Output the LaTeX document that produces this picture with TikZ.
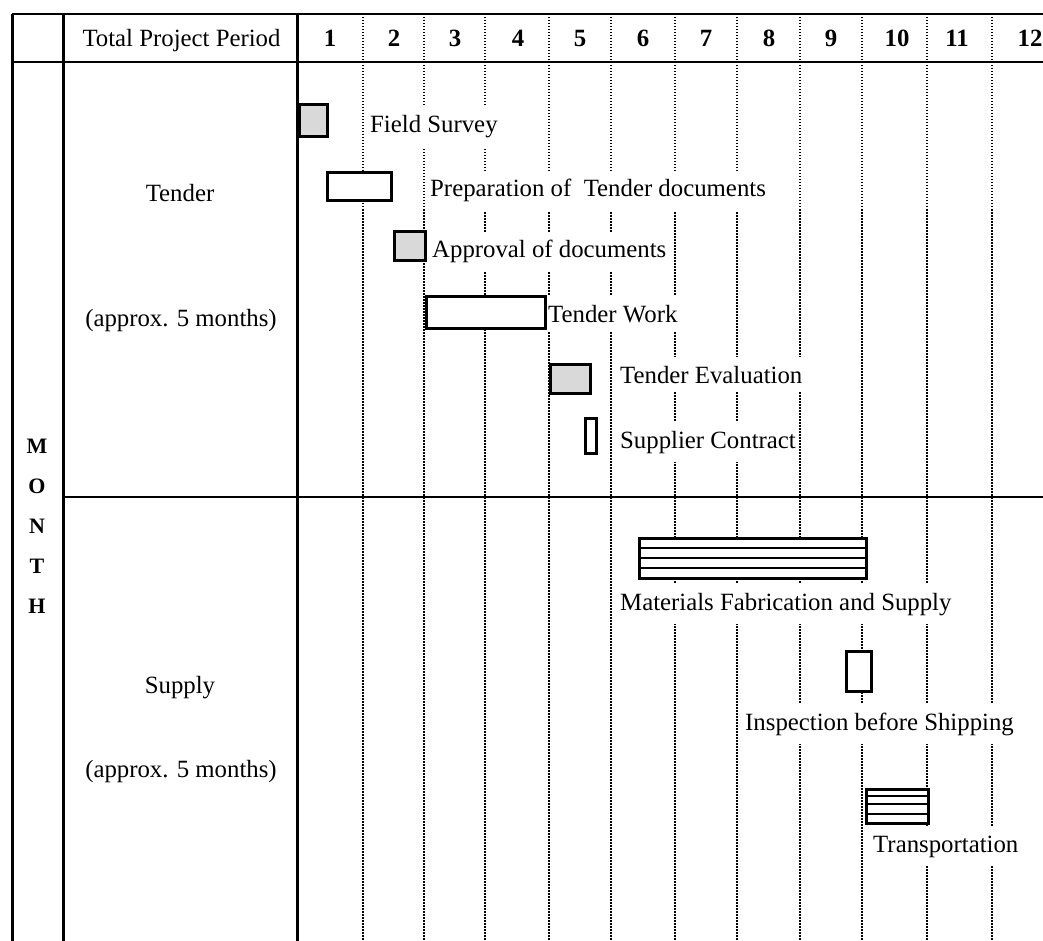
\documentclass[tikz,border=0pt]{standalone}
\usepackage{fontspec}
\setmainfont{Liberation Serif}
\begin{document}
\begin{tikzpicture}[x=1pt,y=-1pt,
  rule/.style={line width=3pt},
  hrule/.style={line width=2.3pt},
  dots/.style={line width=2.5pt, dash pattern=on 1.5pt off 1.5pt},
  lbl/.style={font=\fontsize{24.8}{28}\selectfont, fill=white, inner xsep=1pt, inner ysep=9pt, anchor=base west},
  ctr/.style={font=\fontsize{24.8}{28}\selectfont, anchor=base, inner sep=0pt},
  num/.style={font=\fontsize{24.8}{28}\selectfont\bfseries, anchor=base, inner sep=0pt},
  let/.style={font=\fontsize{22}{24}\selectfont\bfseries, anchor=base, inner sep=0pt},
  bar/.style={draw, line width=2.8pt, fill=white},
  shaded/.style={bar, fill=gray!30},
  stripe/.style={line width=2pt},
]
\useasboundingbox (0,0) rectangle (1043,941);
\fill[white] (0,0) rectangle (1043,941);

% dotted month dividers
\foreach \x in {363,424,485,549,611,675,737,800,862,927,992}
  \draw[dots] (\x,14) -- (\x,941);

% header
\node[ctr] (hdr) at (181.5,47) {Total Project Period};
\foreach \m/\x in {1/330,2/394,3/455,4/518,5/580,6/643,7/706,8/769,9/831,10/897,11/957,12/1030}
  \node[num] (m\m) at (\x,47) {\m};

% left column texts
\node[ctr] (tender) at (180,202) {Tender};
\node[ctr] (tdur) at (181,326) {(approx. 5 months)};
\node[ctr] (supply) at (180,693) {Supply};
\node[ctr] (sdur) at (181,777) {(approx. 5 months)};
\node[let] (lM) at (37,453) {M};
\node[let] (lO) at (37,493) {O};
\node[let] (lN) at (37,533) {N};
\node[let] (lT) at (37,573) {T};
\node[let] (lH) at (37,613) {H};

% activity labels
\node[lbl] (fs)  at (369,133) {Field Survey};
\node[lbl] (ptd) at (429,197) {Preparation of\ \ Tender documents};
\node[lbl] (aod) at (431,258) {Approval of documents};
\node[lbl] (tw)  at (547,322) {Tender Work};
\node[lbl] (te)  at (619,383) {Tender Evaluation};
\node[lbl] (sc)  at (619,448) {Supplier Contract};
\node[lbl] (mfs) at (619,610) {Materials Fabrication and Supply};
\node[lbl] (ibs) at (744,730) {Inspection before Shipping};
\node[lbl] (tr)  at (872,852) {Transportation};

% bars
\draw[shaded] (299.4,104.4) rectangle (327.6,136.6);
\draw[bar]    (327.4,172.4) rectangle (391.6,200.6);
\draw[shaded] (394.4,231.4) rectangle (425.6,260.6);
\draw[bar]    (426.4,296.4) rectangle (545.6,328.6);
\draw[shaded] (550.4,364.4) rectangle (590.6,393.6);
\draw[bar]    (585.4,418.4) rectangle (596.6,453.6);
\draw[bar]    (639.4,538.4) rectangle (866.6,578.6);
\foreach \y in {547.5,557.5,568}
  \draw[stripe] (639.4,\y) -- (866.6,\y);
\draw[bar]    (846.4,651.4) rectangle (871.6,691.6);
\draw[bar]    (866.4,789.4) rectangle (928.6,823.6);
\foreach \y in {796,804,813.5}
  \draw[stripe] (866.4,\y) -- (928.6,\y);

% table rules
\draw[hrule] (12,14) -- (1043,14);
\draw[hrule] (12,62) -- (1043,62);
\draw[hrule] (63,497) -- (1043,497);
\draw[rule] (12,14) -- (12,941);
\draw[rule] (63,14) -- (63,941);
\draw[rule] (297,14) -- (297,941);
\end{tikzpicture}
\end{document}
